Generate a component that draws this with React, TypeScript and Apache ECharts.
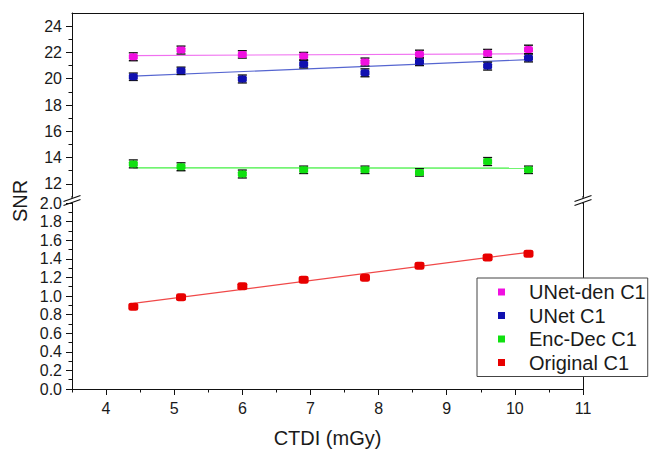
import React, { useEffect, useRef } from "react";
import * as echarts from "echarts";

const ctdi = [4.4, 5.1, 6.0, 6.9, 7.8, 8.6, 9.6, 10.2];
const unetDen = [21.67, 22.18, 21.85, 21.72, 21.27, 21.87, 21.93, 22.23];
const unetDenErr = [0.3, 0.3, 0.28, 0.28, 0.3, 0.3, 0.3, 0.32];
const unet = [20.15, 20.6, 19.98, 21.1, 20.45, 21.3, 20.96, 21.58];
const unetErr = [0.28, 0.28, 0.3, 0.28, 0.3, 0.3, 0.3, 0.3];
const encDec = [13.52, 13.3, 12.75, 13.07, 13.07, 12.87, 13.7, 13.07];
const encDecErr = [0.3, 0.3, 0.3, 0.28, 0.28, 0.28, 0.3, 0.28];
const original = [0.885, 0.987, 1.105, 1.176, 1.195, 1.326, 1.415, 1.455];

const fitX = [4.4, 10.2];
const unetDenFit = [21.76, 21.9];
const unetFit = [20.2, 21.45];
const encDecFit = [13.22, 13.2];
const originalFit = [0.92, 1.47];

const xMajor = [4, 5, 6, 7, 8, 9, 10, 11];
const xMinor = [3.5, 4.5, 5.5, 6.5, 7.5, 8.5, 9.5, 10.5];
const yTopMajor = [12, 14, 16, 18, 20, 22, 24];
const yTopMinor = [13, 15, 17, 19, 21, 23];
const yBotMajor = [0, 0.2, 0.4, 0.6, 0.8, 1.0, 1.2, 1.4, 1.6, 1.8, 2.0];
const yBotMinor = [0.1, 0.3, 0.5, 0.7, 0.9, 1.1, 1.3, 1.5, 1.7, 1.9];

const names = ["UNet-den C1", "UNet C1", "Enc-Dec C1", "Original C1"];
const markerColors = ["#f010e0", "#1010b0", "#10e010", "#e80000"];
const fitColors = ["#f070f0", "#5565d0", "#40f040", "#f04848"];

const FONT = "'Liberation Sans', Arial, sans-serif";
const AXIS_COLOR = "#111";

function errData(v: number[], e: number[]) {
  return ctdi.map((x, i) => [x, v[i] - e[i], v[i] + e[i]]);
}

function renderErr(params: any, api: any) {
  const x = api.value(0);
  const lo = api.coord([x, api.value(1)]);
  const hi = api.coord([x, api.value(2)]);
  const hw = 4.5;
  const st = { stroke: "#111", lineWidth: 1.4 };
  return {
    type: "group",
    children: [
      { type: "line", shape: { x1: lo[0], y1: lo[1], x2: hi[0], y2: hi[1] }, style: { stroke: "#111", lineWidth: 1 } },
      { type: "line", shape: { x1: lo[0] - hw, y1: lo[1], x2: lo[0] + hw, y2: lo[1] }, style: st },
      { type: "line", shape: { x1: hi[0] - hw, y1: hi[1], x2: hi[0] + hw, y2: hi[1] }, style: st },
    ],
  };
}

function groupSeries(idx: number, vals: number[], fit: number[], err: number[] | null, gi: number) {
  const yAxisIndex = gi === 0 ? 0 : 3;
  const xAxisIndex = gi === 0 ? 0 : 1;
  const out: any[] = [
    {
      name: names[idx] + " fit",
      type: "line",
      xAxisIndex,
      yAxisIndex,
      data: fitX.map((x, i) => [x, fit[i]]),
      showSymbol: false,
      symbol: "none",
      silent: true,
      lineStyle: { color: fitColors[idx], width: 1.2 },
      z: 1,
    },
  ];
  if (err) {
    out.push({
      name: names[idx] + " err",
      type: "custom",
      xAxisIndex,
      yAxisIndex,
      renderItem: renderErr,
      encode: { x: 0, y: [1, 2] },
      data: errData(vals, err),
      silent: true,
      z: 2,
    });
  }
  out.push({
    name: names[idx],
    type: "scatter",
    xAxisIndex,
    yAxisIndex,
    data: ctdi.map((x, i) => [x, vals[i]]),
    symbol: "roundRect",
    symbolSize: gi === 0 ? [9, 7] : [10, 8],
    itemStyle: { color: markerColors[idx], opacity: 1 },
    z: 3,
  });
  return out;
}

function breakMark(cx: number, cy: number) {
  const a = [cx - 8.5, cy + 1.5, cx + 8.5, cy - 4.5];
  const b = [cx - 8.5, cy + 5.5, cx + 8.5, cy - 0.5];
  return {
    type: "group",
    children: [
      { type: "line", shape: { x1: cx, y1: cy - 4, x2: cx, y2: cy + 4 }, style: { stroke: AXIS_COLOR, lineWidth: 1 } },
      {
        type: "polygon",
        shape: { points: [[a[0], a[1]], [a[2], a[3]], [b[2], b[3]], [b[0], b[1]]] },
        style: { fill: "#fff" },
      },
      { type: "line", shape: { x1: a[0], y1: a[1], x2: a[2], y2: a[3] }, style: { stroke: AXIS_COLOR, lineWidth: 1.2 } },
      { type: "line", shape: { x1: b[0], y1: b[1], x2: b[2], y2: b[3] }, style: { stroke: AXIS_COLOR, lineWidth: 1.2 } },
    ],
  };
}

export default function App() {
  const ref = useRef<HTMLDivElement>(null);
  useEffect(() => {
    if (!ref.current) return;
    const chart = echarts.init(ref.current, null, { renderer: "svg" });
    const axisLine = { show: true, lineStyle: { color: AXIS_COLOR, width: 1 } };
    const label = { color: "#1a1a1a", fontSize: 16, fontFamily: FONT };
    const option: any = {
      animation: false,
      backgroundColor: "#fff",
      textStyle: { fontFamily: FONT },
      grid: [
        { left: 72, right: 66, top: 13, height: 184 },
        { left: 72, right: 66, top: 203, height: 187 },
      ],
      xAxis: [
        {
          gridIndex: 0, type: "value", min: 3.5, max: 11, position: "top",
          axisLine, axisTick: { show: false }, axisLabel: { show: false }, splitLine: { show: false },
        },
        {
          gridIndex: 1, type: "value", min: 3.5, max: 11, position: "bottom",
          axisLine,
          axisTick: { show: true, customValues: xMajor, length: 6, lineStyle: { color: AXIS_COLOR } },
          axisLabel: { ...label, customValues: xMajor, margin: 11 },
          splitLine: { show: false },
          name: "CTDI (mGy)", nameLocation: "middle", nameGap: 39,
          nameTextStyle: { fontSize: 20, color: "#1a1a1a", fontFamily: FONT },
        },
        {
          gridIndex: 1, type: "value", min: 3.5, max: 11, position: "bottom",
          axisLine: { show: false },
          axisTick: { show: true, customValues: xMinor, length: 3.5, lineStyle: { color: AXIS_COLOR } },
          axisLabel: { show: false }, splitLine: { show: false },
        },
      ],
      yAxis: [
        {
          gridIndex: 0, type: "value", min: 11, max: 25, position: "left",
          axisLine,
          axisTick: { show: true, customValues: yTopMajor, length: 6, lineStyle: { color: AXIS_COLOR } },
          axisLabel: { ...label, customValues: yTopMajor, margin: 10 },
          splitLine: { show: false },
        },
        {
          gridIndex: 0, type: "value", min: 11, max: 25, position: "left", offset: 0,
          axisLine: { show: false },
          axisTick: { show: true, customValues: yTopMinor, length: 3.5, lineStyle: { color: AXIS_COLOR } },
          axisLabel: { show: false }, splitLine: { show: false },
        },
        {
          gridIndex: 0, type: "value", min: 11, max: 25, position: "right", offset: 0,
          axisLine, axisTick: { show: false }, axisLabel: { show: false }, splitLine: { show: false },
        },
        {
          gridIndex: 1, type: "value", min: 0, max: 2, position: "left",
          axisLine,
          axisTick: { show: true, customValues: yBotMajor, length: 6, lineStyle: { color: AXIS_COLOR } },
          axisLabel: { ...label, customValues: yBotMajor, margin: 10, formatter: (v: number) => v.toFixed(1) },
          splitLine: { show: false },
        },
        {
          gridIndex: 1, type: "value", min: 0, max: 2, position: "left", offset: 0,
          axisLine: { show: false },
          axisTick: { show: true, customValues: yBotMinor, length: 3.5, lineStyle: { color: AXIS_COLOR } },
          axisLabel: { show: false }, splitLine: { show: false },
        },
        {
          gridIndex: 1, type: "value", min: 0, max: 2, position: "right", offset: 0,
          axisLine, axisTick: { show: false }, axisLabel: { show: false }, splitLine: { show: false },
        },
      ],
      legend: {
        data: names.map((n) => ({ name: n, icon: "rect" })),
        orient: "vertical",
        left: 477,
        top: 278,
        padding: [4, 2, 4, 21],
        itemGap: 3.5,
        itemWidth: 7,
        itemHeight: 7,
        backgroundColor: "#fff",
        borderColor: "#444",
        borderWidth: 1,
        selectedMode: false,
        textStyle: { fontSize: 20, lineHeight: 20, color: "#1a1a1a", fontFamily: FONT, padding: [0, 0, 0, 19] },
        z: 10,
      },
      graphic: [
        {
          type: "text", x: 20, y: 201, rotation: Math.PI / 2,
          style: { text: "SNR", fontSize: 20, fontFamily: FONT, fill: "#1a1a1a", textAlign: "center", textVerticalAlign: "middle" },
        },
        { ...breakMark(72, 200), z: 5 },
        { ...breakMark(583, 200), z: 5 },
      ],
      series: [
        ...groupSeries(0, unetDen, unetDenFit, unetDenErr, 0),
        ...groupSeries(1, unet, unetFit, unetErr, 0),
        ...groupSeries(2, encDec, encDecFit, encDecErr, 0),
        ...groupSeries(3, original, originalFit, null, 1),
      ],
    };
    chart.setOption(option);
    return () => chart.dispose();
  }, []);
  return <div ref={ref} style={{ position: "fixed", left: 0, top: 0, width: 649, height: 449 }} />;
}
